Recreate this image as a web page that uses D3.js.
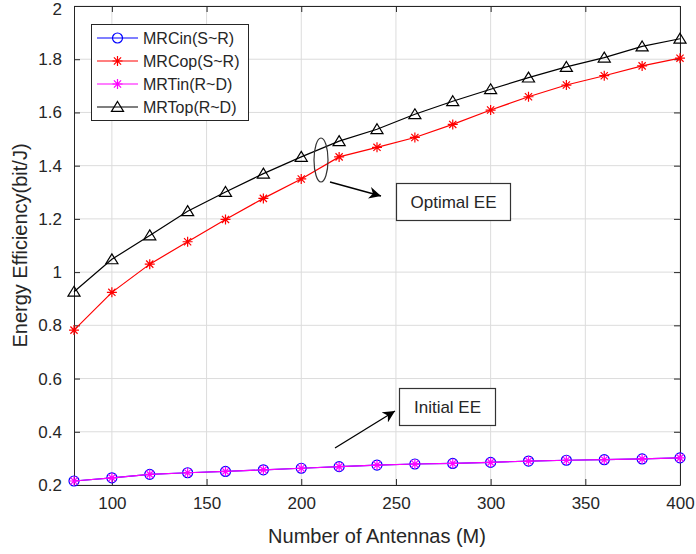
<!DOCTYPE html>
<html>
<head>
<meta charset="utf-8">
<script src="https://cdn.jsdelivr.net/npm/d3@7/dist/d3.min.js"></script>
<style>
  html, body { margin: 0; padding: 0; background: #fff; }
  svg { display: block; font-family: "Liberation Sans", Arial, Helvetica, sans-serif; }
</style>
</head>
<body>
<svg id="chart" width="696" height="554"></svg>
<script>
// ---- Data ----
const antennas = [80,100,120,140,160,180,200,220,240,260,280,300,320,340,360,380,400];
const mrcIn  = [0.215,0.227,0.240,0.246,0.251,0.257,0.263,0.269,0.275,0.279,0.281,0.285,0.290,0.293,0.295,0.298,0.302];
const mrcOp  = [0.782,0.924,1.030,1.114,1.198,1.277,1.350,1.433,1.469,1.506,1.555,1.609,1.659,1.703,1.738,1.775,1.804];
const mrtIn  = [0.215,0.227,0.240,0.246,0.251,0.257,0.263,0.269,0.275,0.279,0.281,0.285,0.290,0.293,0.295,0.298,0.302];
const mrtOp  = [0.926,1.048,1.138,1.229,1.301,1.370,1.433,1.492,1.537,1.593,1.642,1.687,1.731,1.771,1.806,1.848,1.877];
const seriesNames = ["MRCin(S~R)","MRCop(S~R)","MRTin(R~D)","MRTop(R~D)"];
const xTicks = [100,150,200,250,300,350,400];
const yTicks = [0.2,0.4,0.6,0.8,1.0,1.2,1.4,1.6,1.8,2.0];
const xLabel = "Number of Antennas (M)";
const yLabel = "Energy Efficiency(bit/J)";
const annoOptimal = "Optimal EE";
const annoInitial = "Initial EE";

// ---- Layout ----
const svg = d3.select("#chart");
const L = 74, R = 680, T = 6, B = 485;
const x = d3.scaleLinear().domain([80,400]).range([L,R]);
const y = d3.scaleLinear().domain([0.2,2]).range([B,T]);
const axisCol = "#262626";

// grid
const g = svg.append("g");
g.selectAll("line.gx").data(xTicks).join("line")
  .attr("x1", d=>x(d)).attr("x2", d=>x(d)).attr("y1", T).attr("y2", B)
  .attr("stroke", "#dcdcdc").attr("stroke-width", 1);
g.selectAll("line.gy").data(yTicks).join("line")
  .attr("y1", d=>y(d)).attr("y2", d=>y(d)).attr("x1", L).attr("x2", R)
  .attr("stroke", "#dcdcdc").attr("stroke-width", 1);

// axes (MATLAB-like box with inward ticks)
const tickLen = 6;
const xAxisB = d3.axisBottom(x).tickValues(xTicks).tickSizeInner(-tickLen).tickSizeOuter(0).tickPadding(12).tickFormat(d3.format("d"));
const xAxisT = d3.axisTop(x).tickValues(xTicks).tickSizeInner(-tickLen).tickSizeOuter(0).tickFormat("");
const yAxisL = d3.axisLeft(y).tickValues(yTicks).tickSizeInner(-tickLen).tickSizeOuter(0).tickPadding(12).tickFormat(d => d3.format("")(+d.toFixed(1)));
const yAxisR = d3.axisRight(y).tickValues(yTicks).tickSizeInner(-tickLen).tickSizeOuter(0).tickFormat("");

function styleAxis(sel){
  sel.selectAll("path").attr("stroke", axisCol).attr("stroke-width", 1);
  sel.selectAll("line").attr("stroke", axisCol).attr("stroke-width", 1);
  sel.selectAll("text").attr("fill", axisCol).style("font-size", "17px").style("font-family", "'Liberation Sans', Arial, sans-serif");
}
svg.append("g").attr("transform", `translate(0,${B})`).call(xAxisB).call(styleAxis);
svg.append("g").attr("transform", `translate(0,${T})`).call(xAxisT).call(styleAxis);
const yl = svg.append("g").attr("transform", `translate(${L},0)`).call(yAxisL).call(styleAxis);
// keep the top label ("2") inside the canvas
yl.selectAll(".tick text").filter(d => d === 2).attr("dy", "0.5em");

svg.append("g").attr("transform", `translate(${R},0)`).call(yAxisR).call(styleAxis);

// axis labels
svg.append("text").attr("x", (L+R)/2).attr("y", 543).attr("text-anchor","middle")
  .attr("fill", axisCol).style("font-size","20px").text(xLabel);
svg.append("text").attr("transform", `translate(27,${(T+B)/2}) rotate(-90)`).attr("text-anchor","middle")
  .attr("fill", axisCol).style("font-size","20px").text(yLabel);

// markers
function asterisk(h){ const d=h*0.72; return `M${-h},0L${h},0M0,${-h}L0,${h}M${-d},${-d}L${d},${d}M${-d},${d}L${d},${-d}`; }
function triangle(h){ return `M0,${-h}L${h*1.1},${h*0.8}L${-h*1.1},${h*0.8}Z`; }

const series = [
  {name: seriesNames[0], vals: mrcIn, color: "#0000ff", marker: "circle"},
  {name: seriesNames[1], vals: mrcOp, color: "#ff0000", marker: "star"},
  {name: seriesNames[2], vals: mrtIn, color: "#ff00ff", marker: "star"},
  {name: seriesNames[3], vals: mrtOp, color: "#000000", marker: "tri"},
];

function drawMarker(sel, s){
  if (s.marker === "circle") {
    sel.append("circle").attr("r", 5).attr("fill","none").attr("stroke", s.color).attr("stroke-width", 1.2);
  } else if (s.marker === "star") {
    sel.append("path").attr("d", asterisk(5)).attr("fill","none").attr("stroke", s.color).attr("stroke-width", 1.2);
  } else {
    sel.append("path").attr("d", triangle(5.5)).attr("fill","none").attr("stroke", s.color).attr("stroke-width", 1.2);
  }
}

const line = d3.line().x((d,i)=>x(antennas[i])).y(d=>y(d));
series.forEach(s => {
  svg.append("path").datum(s.vals).attr("d", line).attr("fill","none")
    .attr("stroke", s.color).attr("stroke-width", 1.2);
  s.vals.forEach((v,i) => {
    const m = svg.append("g").attr("transform", `translate(${x(antennas[i])},${y(v)})`);
    drawMarker(m, s);
  });
});

// legend
const lg = svg.append("g");
lg.append("rect").attr("x", 91.5).attr("y", 24.5).attr("width", 157).attr("height", 96)
  .attr("fill","#fff").attr("stroke", axisCol).attr("stroke-width", 1);
series.forEach((s,i) => {
  const yy = 38 + i*23;
  lg.append("line").attr("x1", 97).attr("x2", 138).attr("y1", yy).attr("y2", yy)
    .attr("stroke", s.color).attr("stroke-width", 1.2);
  const m = lg.append("g").attr("transform", `translate(117.5,${yy})`);
  drawMarker(m, s);
  lg.append("text").attr("x", 143).attr("y", yy).attr("dy","0.36em")
    .attr("fill", axisCol).style("font-size","16px").text(s.name);
});

// annotations
const defs = svg.append("defs");
defs.append("marker").attr("id","arrowhead").attr("viewBox","0 0 10 10").attr("refX",10).attr("refY",5)
  .attr("markerWidth",12).attr("markerHeight",12).attr("markerUnits","userSpaceOnUse").attr("orient","auto")
  .append("path").attr("d","M0,0L10,5L0,10L3,5Z").attr("fill","#000");

svg.append("ellipse").attr("cx", 321).attr("cy", 160).attr("rx", 7).attr("ry", 22)
  .attr("fill","none").attr("stroke","#333").attr("stroke-width",1.2);
svg.append("line").attr("x1",330).attr("y1",182).attr("x2",381).attr("y2",196)
  .attr("stroke","#000").attr("stroke-width",1.3).attr("marker-end","url(#arrowhead)");
svg.append("rect").attr("x",396.5).attr("y",183.5).attr("width",114).attr("height",37)
  .attr("fill","#fff").attr("stroke","#333").attr("stroke-width",1.2);
svg.append("text").attr("x",453.5).attr("y",202).attr("dy","0.36em").attr("text-anchor","middle")
  .attr("fill","#262626").style("font-size","17px").text(annoOptimal);

svg.append("line").attr("x1",335).attr("y1",448).attr("x2",395).attr("y2",411)
  .attr("stroke","#000").attr("stroke-width",1.3).attr("marker-end","url(#arrowhead)");
svg.append("rect").attr("x",399.5).attr("y",388.5).attr("width",96).attr("height",37)
  .attr("fill","#fff").attr("stroke","#333").attr("stroke-width",1.2);
svg.append("text").attr("x",447.5).attr("y",407).attr("dy","0.36em").attr("text-anchor","middle")
  .attr("fill","#262626").style("font-size","17px").text(annoInitial);
</script>
</body>
</html>
